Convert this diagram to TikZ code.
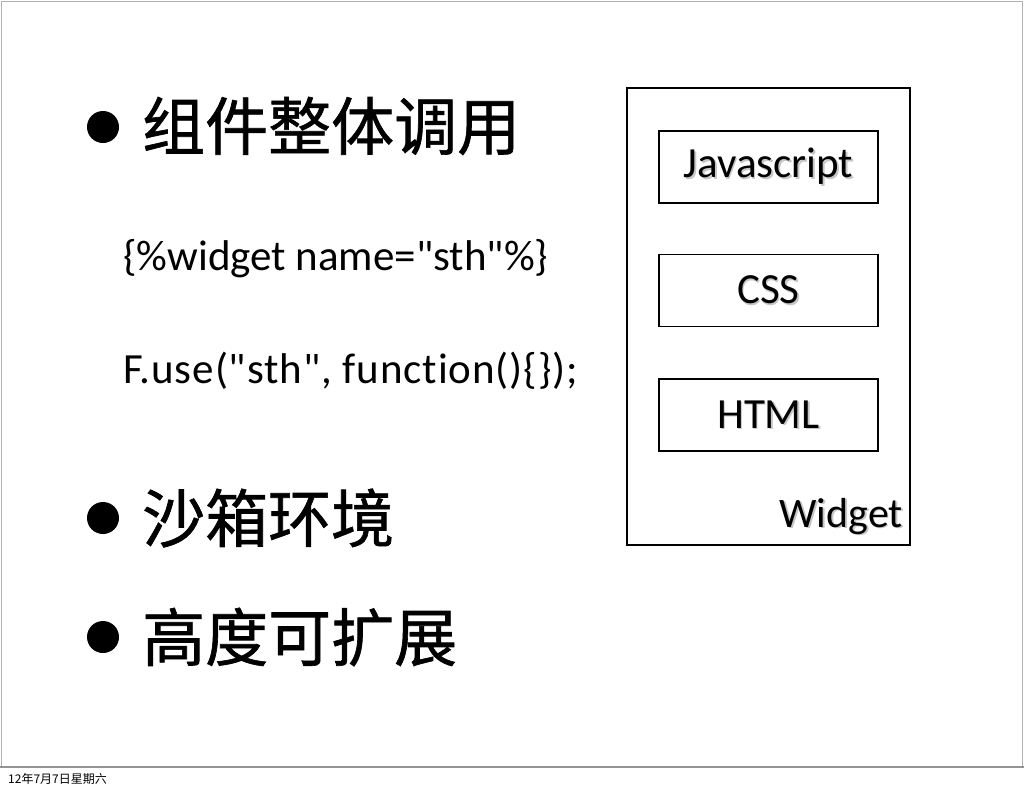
\documentclass[tikz,border=0pt]{standalone}
\usepackage{fontspec}
\setmainfont{Carlito}[Ligatures={TeXOff,NoCommon}]
\newfontfamily\cjk{Noto Sans CJK SC}[FakeBold=1]
\newfontfamily\cjkdate{Noto Sans CJK SC}
\usetikzlibrary{
	positioning,
	calc
}
\newcommand\shtext[1]{\makebox[0pt][l]{\raisebox{-1.6pt}{\hspace{1.6pt}\textcolor{black!22}{#1}}}#1}
\tikzset{
	bulletdot/.style={
		circle,
		fill=black,
		minimum size=32pt,
		inner sep=0pt
	},
	bullettext/.style={
		anchor=west,
		inner sep=0pt,
		font=\cjk\fontsize{63}{63}\selectfont
	},
	codetext/.style={
		anchor=base west,
		inner sep=0pt,
		font=\fontsize{43}{43}\selectfont
	},
	partbox/.style={
		draw,
		line width=1.6pt,
		minimum width=219pt,
		minimum height=72pt,
		inner sep=0pt,
		font=\fontsize{43}{43}\selectfont
	},
	widgetbox/.style={
		draw,
		line width=1.6pt,
		minimum width=283pt,
		minimum height=457pt,
		inner sep=0pt
	}
}

\begin{document}
\begin{tikzpicture}[x=1pt,y=-1pt]
	\useasboundingbox (0,0) rectangle (1024,788);
	% slide frame
	\draw [black!30, line width=1pt] (1,1) rectangle (1022,767);
	\draw [black!42, line width=2.5pt] (0,767) -- (1024,767);
	\node [anchor=base west, inner sep=0pt, font=\cjkdate\fontsize{12}{12}\selectfont] (date) at (8,783) {12年7月7日星期六};

	% left column
	\node [bulletdot] (b1) at (103,127) {};
	\node [bullettext] (t1) at (142,126) {组件整体调用};
	\node [codetext] (c1) at (123,270) {\{\%widget name="sth"\%\}};
	\node [codetext] (c2) at (123,383) {\addfontfeature{LetterSpace=2.1}F.use("sth", function()\{\});};
	\node [bulletdot] (b2) at (103,518) {};
	\node [bullettext] (t2) at (142,518) {沙箱环境};
	\node [bulletdot] (b3) at (103,637) {};
	\node [bullettext] (t3) at (142,637) {高度可扩展};

	% widget
	\node [widgetbox] (widget) at (768.5,316.5) {};
	\node [partbox] (js) at (768.5,167) {\shtext{Javascript}};
	\node [partbox] (css) at (768.5,290.5) {\shtext{CSS}};
	\node [partbox] (html) at (768.5,415) {\shtext{HTML}};
	\node [anchor=base east, inner sep=0pt, font=\fontsize{42}{42}\selectfont] (wlabel) at (903,527) {\shtext{Widget}};
\end{tikzpicture}
\end{document}
